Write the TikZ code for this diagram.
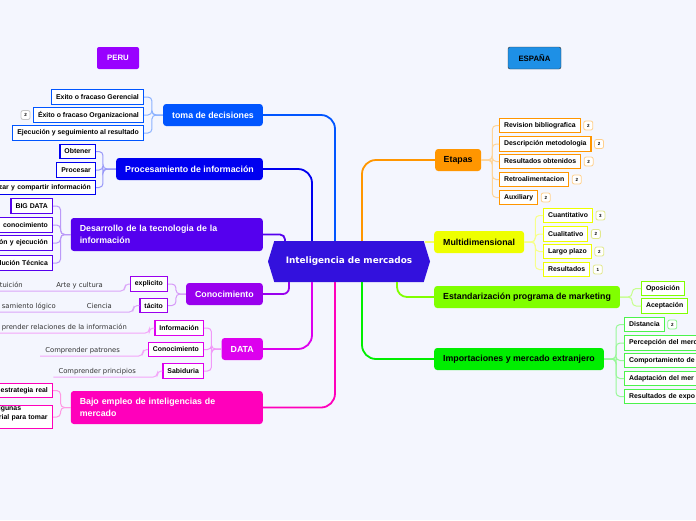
\documentclass[tikz,border=0pt]{standalone}
\usepackage{fontspec}
\setmainfont{Liberation Sans}
\newfontfamily\verdana{DejaVu Sans}
\usetikzlibrary{shapes.symbols}

\definecolor{bg}{RGB}{244,246,254}
\definecolor{centrecol}{RGB}{51,17,221}
\definecolor{perucol}{RGB}{153,0,255}
\definecolor{espcol}{RGB}{30,144,230}
\definecolor{tomacol}{RGB}{0,85,255}
\definecolor{proccol}{RGB}{0,0,240}
\definecolor{desacol}{RGB}{85,0,238}
\definecolor{conocol}{RGB}{153,0,238}
\definecolor{datacol}{RGB}{221,0,238}
\definecolor{bajocol}{RGB}{255,0,187}
\definecolor{etapcol}{RGB}{255,150,0}
\definecolor{multcol}{RGB}{238,255,0}
\definecolor{estacol}{RGB}{128,255,0}
\definecolor{impocol}{RGB}{0,238,0}

\tikzset{
  topic/.style={rounded corners=3pt, minimum height=22pt, inner xsep=9pt, inner ysep=0pt,
    font=\bfseries\fontsize{8.8}{12}\selectfont},
  subtopic/.style={draw, fill=white, line width=1.2pt, minimum height=14.5pt, inner xsep=4.5pt,
    inner ysep=0pt, font=\bfseries\fontsize{6.9}{9}\selectfont},
  cutleft/.style={text width=100pt, align=right},
  cutright/.style={text width=75pt, align=left},
  leaf/.style={inner xsep=5pt, inner ysep=2pt, text depth=1.6pt, text=black!80,
    font=\verdana\fontsize{6.8}{8}\selectfont},
  badge/.style={draw=#1!45, fill=white, rounded corners=2pt, line width=0.8pt, minimum size=9pt,
    inner sep=0pt, font=\bfseries\fontsize{4.5}{5}\selectfont},
  branch/.style={line width=1.8pt, rounded corners=14pt},
  twig/.style={line width=1pt, rounded corners=4pt}
}

\begin{document}
\begin{tikzpicture}[x=1pt, y=-1pt]
\useasboundingbox (0,0) rectangle (696,520);
\fill[bg] (0,0) rectangle (696,520);

% centre and headings
\node[shape=signal, signal to=west and east, signal pointer angle=146, fill=centrecol, text=white,
  minimum width=162pt, minimum height=41pt, font=\verdana\bfseries\fontsize{8.9}{10}\selectfont]
  (centre) at (349,261.5) {Inteligencia de mercados};
\node[fill=perucol, text=white, rounded corners=2pt, minimum width=42pt, minimum height=22pt,
  font=\bfseries\fontsize{7.8}{9}\selectfont] (peru) at (118,58) {PERU};
\node[draw=black!80, fill=espcol, rounded corners=2pt, minimum width=53pt, minimum height=22pt,
  font=\bfseries\fontsize{7.8}{9}\selectfont] (espana) at (534.5,58) {ESPAÑA};

% left topics
\node[topic, fill=tomacol, text=white, anchor=east] (toma) at (263,115) {toma de decisiones};
\node[topic, fill=proccol, text=white, anchor=east] (proc) at (263,169) {Procesamiento de información};
\node[topic, fill=desacol, text=white, anchor=east, minimum height=33pt, text width=174pt, align=left]
  (desa) at (263,234.5) {Desarrollo de la tecnologia de la\\información};
\node[topic, fill=conocol, text=white, anchor=east] (cono) at (263,294) {Conocimiento};
\node[topic, fill=datacol, text=white, anchor=east] (data) at (263,349) {DATA};
\node[topic, fill=bajocol, text=white, anchor=east, minimum height=33pt, text width=174pt, align=left]
  (bajo) at (263,407.5) {Bajo empleo de inteligencias de\\mercado};

% right topics
\node[topic, fill=etapcol, anchor=west, inner xsep=8.5pt] (etapas) at (435,160) {Etapas};
\node[topic, fill=multcol, anchor=west] (multi) at (434,242) {Multidimensional};
\node[topic, fill=estacol, anchor=west] (estand) at (434,297) {Estandarización programa de marketing};
\node[topic, fill=impocol, anchor=west] (impo) at (434,359) {Importaciones y mercado extranjero};

% branches from the centre
\draw[branch, tomacol] ([xshift=-14pt]centre.north) |- (toma.east);
\draw[branch, proccol] ([xshift=-37pt]centre.north) |- (proc.east);
\draw[branch, desacol, rounded corners=5pt] ([xshift=-64pt]centre.north) |- (desa.east);
\draw[branch, conocol, rounded corners=6pt] ([xshift=-60pt]centre.south) |- (cono.east);
\draw[branch, datacol] ([xshift=-37pt]centre.south) |- (data.east);
\draw[branch, bajocol] ([xshift=-14pt]centre.south) |- (bajo.east);
\draw[branch, etapcol] ([xshift=13pt]centre.north) |- (etapas.west);
\draw[branch, multcol!60] (multi.west) -- ([xshift=-5pt]multi.west -| centre.east);
\draw[branch, estacol, rounded corners=10pt] ([xshift=48pt]centre.south) |- (estand.west);
\draw[branch, impocol] ([xshift=13pt]centre.south) |- (impo.west);

% toma de decisiones
\node[subtopic, draw=tomacol, anchor=east] (ger) at (144,97) {Exito o fracaso Gerencial};
\node[subtopic, draw=tomacol, anchor=east] (org) at (144,115) {Éxito o fracaso Organizacional};
\node[subtopic, draw=tomacol, anchor=east] (eje) at (144,133) {Ejecución y seguimiento al resultado};
\node[badge=gray, anchor=east] (orgbadge) at ([xshift=-2.5pt]org.west) {2};
\foreach \n in {ger,org,eje}
  \draw[twig, tomacol!45] (toma.west) -- ++(-11,0) |- (\n.east);

% procesamiento
\node[subtopic, draw=proccol, anchor=east] (obt) at (96,151.5) {Obtener};
\node[subtopic, draw=proccol, anchor=east] (pro) at (96,170) {Procesar};
\node[subtopic, draw=proccol, anchor=east, cutleft] (comp) at (96,187.5) {zar y compartir información};
\foreach \n in {obt,pro,comp}
  \draw[twig, proccol!40] (proc.west) -- ++(-13,0) |- (\n.east);

% desarrollo
\node[subtopic, draw=desacol, anchor=east] (big) at (53,206) {BIG DATA};
\node[subtopic, draw=desacol, anchor=east, cutleft] (gest) at (53,225) {conocimiento};
\node[subtopic, draw=desacol, anchor=east, cutleft] (plan) at (53,243) {ón y ejecución};
\node[subtopic, draw=desacol, anchor=east, cutleft] (tec) at (53,263) {lución Técnica};
\foreach \n in {big,gest,plan,tec}
  \draw[twig, desacol!40] (desa.west) -- ++(-10,0) |- (\n.east);

% conocimiento
\node[subtopic, draw=conocol, anchor=east] (expl) at (168,284) {explicito};
\node[subtopic, draw=conocol, anchor=east] (taci) at (168,305.5) {tácito};
\foreach \n in {expl,taci}
  \draw[twig, conocol!40] (cono.west) -- ++(-10,0) |- (\n.east);
\node[leaf, anchor=south east] (arte) at (108,291) {Arte y cultura};
\node[leaf, anchor=south east] (intu) at (28,291) {tuición};
\node[leaf, anchor=south east] (cien) at (117,312) {Ciencia};
\node[leaf, anchor=south east] (pens) at (61,312) {samiento lógico};
\draw[twig, conocol!35] (expl.west) -- ++(-5,0) |- (arte.south east) -- (intu.south west);
\draw[twig, conocol!35] (taci.west) -- ++(-6,0) |- (cien.south east) -- (pens.south west);

% data
\node[subtopic, draw=datacol, anchor=east] (info) at (204,328) {Información};
\node[subtopic, draw=datacol, anchor=east] (conoc) at (204,349.5) {Conocimiento};
\node[subtopic, draw=datacol, anchor=east] (sabi) at (204,371) {Sabiduria};
\foreach \n in {info,conoc,sabi}
  \draw[twig, datacol!40] (data.west) -- ++(-10,0) |- (\n.east);
\node[leaf, anchor=south east] (relac) at (132,333) {prender relaciones de la información};
\node[leaf, anchor=south east] (patr) at (125,356) {Comprender patrones};
\node[leaf, anchor=south east] (princ) at (141,377) {Comprender principios};
\draw[twig, datacol!35] (info.west) -- ++(-5,0) |- (relac.south east) -- (relac.south west);
\draw[twig, datacol!35] (conoc.west) -- ++(-5,0) |- (patr.south east) -- (patr.south west);
\draw[twig, datacol!35] (sabi.west) -- ++(-5,0) |- (princ.south east) -- (princ.south west);

% bajo empleo
\node[subtopic, draw=bajocol, anchor=east, cutleft] (estr) at (53,390.5) {estrategia real};
\node[subtopic, draw=bajocol, anchor=east, text width=49pt, align=left] (mate) at (53,417)
  {igunas\\rial para tomar\\\mbox{}};
\foreach \n in {estr,mate}
  \draw[twig, bajocol!40] (bajo.west) -- ++(-10,0) |- (\n.east);

% etapas
\node[subtopic, draw=etapcol, anchor=west] (rev) at (499,125.5) {Revision bibliografica};
\node[subtopic, draw=etapcol, anchor=west] (desc) at (499,144) {Descripción metodologia};
\node[subtopic, draw=etapcol, anchor=west] (resob) at (499,161.5) {Resultados obtenidos};
\node[subtopic, draw=etapcol, anchor=west] (retro) at (499,179.5) {Retroalimentacion};
\node[subtopic, draw=etapcol, anchor=west] (aux) at (499,197.5) {Auxiliary};
\foreach \n in {rev,desc,resob,retro,aux} {
  \draw[twig, etapcol!40] (etapas.east) -- ++(11,0) |- (\n.west);
  \node[badge=etapcol, anchor=west] (\n badge) at ([xshift=2.5pt]\n.east) {2};
}

% multidimensional
\node[subtopic, draw=multcol, anchor=west] (cuan) at (543,215.5) {Cuantitativo};
\node[subtopic, draw=multcol, anchor=west] (cual) at (543,234) {Cualitativo};
\node[subtopic, draw=multcol, anchor=west] (largo) at (543,251.5) {Largo plazo};
\node[subtopic, draw=multcol, anchor=west] (resul) at (543,269.5) {Resultados};
\foreach \n/\k in {cuan/3,cual/2,largo/2,resul/1} {
  \draw[twig, multcol!45] (multi.east) -- ++(11,0) |- (\n.west);
  \node[badge=multcol!80!black, anchor=west] (\n badge) at ([xshift=2.5pt]\n.east) {\k};
}

% estandarizacion
\node[subtopic, draw=estacol, anchor=west] (opos) at (641,288.5) {Oposición};
\node[subtopic, draw=estacol, anchor=west] (acep) at (641,306) {Aceptación};
\foreach \n in {opos,acep}
  \draw[twig, estacol!45] (estand.east) -- ++(12,0) |- (\n.west);

% importaciones
\node[subtopic, draw=impocol!70, anchor=west] (dist) at (624,324.5) {Distancia};
\node[subtopic, draw=impocol!70, anchor=west, cutright] (perc) at (624,343) {Percepción del merc};
\node[subtopic, draw=impocol!70, anchor=west, cutright] (comport) at (624,360.5) {Comportamiento de};
\node[subtopic, draw=impocol!70, anchor=west, cutright] (adap) at (624,378.5) {Adaptación del mer};
\node[subtopic, draw=impocol!70, anchor=west, cutright] (expo) at (624,396.5) {Resultados de expo};
\node[badge=impocol, anchor=west] (distbadge) at ([xshift=2.5pt]dist.east) {2};
\foreach \n in {dist,perc,comport,adap,expo}
  \draw[twig, impocol!40] (impo.east) -- ++(12,0) |- (\n.west);
\end{tikzpicture}
\end{document}
